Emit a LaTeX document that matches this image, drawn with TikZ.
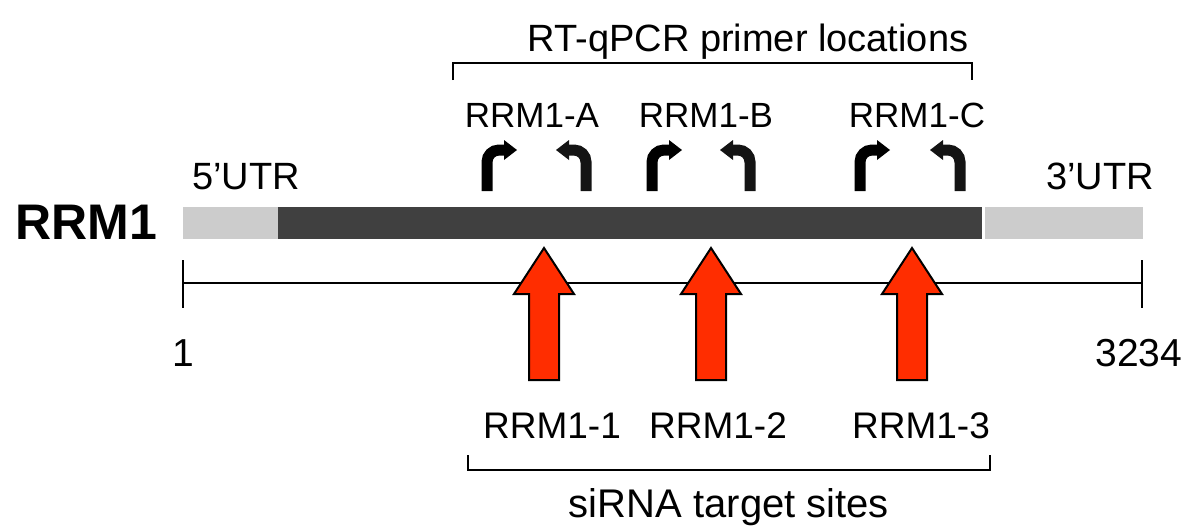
\documentclass[tikz,border=0pt]{standalone}
\usepackage{fontspec}
\setmainfont{Liberation Sans}
\definecolor{utr}{HTML}{CCCCCC}
\definecolor{cds}{HTML}{404040}
\definecolor{sired}{HTML}{FF2D00}
\begin{document}
\begin{tikzpicture}[x=1pt,y=-1pt,
  lbl/.style={inner sep=0pt,anchor=base,font=\fontsize{#1}{#1}\selectfont},
  lbl/.default=34,
  brk/.style={line width=1.6pt},
  fwdp/.pic={\draw[line width=11pt,rounded corners=12pt] (0,41) -- (0,0) -- (20,0);
             \fill (17,-10) -- (30,0) -- (17,10) -- cycle;},
  revp/.pic={\draw[line width=11pt,rounded corners=12pt,black!92] (0,41) -- (0,0) -- (-20,0);
             \fill[black!92] (-17,-10) -- (-30,0) -- (-17,10) -- cycle;},
  redarr/.pic={\filldraw[fill=sired,draw=black,line width=2pt,line join=miter]
     (0,0) -- (30,46) -- (15,46) -- (15,132) -- (-15,132) -- (-15,46) -- (-30,46) -- cycle;}
]
\useasboundingbox (0,0) rectangle (1200,531);
% title and top bracket
\node[lbl=38] (title) at (748,51) {RT-qPCR primer locations};
\draw[brk] (453,80) -- (453,63) -- (972,63) -- (972,80);
% primer labels
\node[lbl=35] (pA) at (532,127) {RRM1-A};
\node[lbl=35] (pB) at (706,127) {RRM1-B};
\node[lbl=35] (pC) at (917,127) {RRM1-C};
% primer arrows
\pic at (487,150) {fwdp};
\pic at (586,150) {revp};
\pic at (652,150) {fwdp};
\pic at (750,150) {revp};
\pic at (860,150) {fwdp};
\pic at (960,150) {revp};
% UTR labels
\node[lbl=38] (u5) at (246,189) {5’UTR};
\node[lbl=38] (u3) at (1100,189) {3’UTR};
% gene label
\node[inner sep=0pt,anchor=base,font=\fontsize{50}{50}\selectfont\bfseries] (gene) at (86,239) {RRM1};
% gene bar
\fill[utr] (183,207) rectangle (278,239);
\fill[cds] (278,207) rectangle (982,239);
\fill[utr] (985,207) rectangle (1143,239);
% scale
\draw[line width=2pt] (183,283) -- (1142,283);
\draw[line width=2.5pt] (183,260) -- (183,308);
\draw[line width=2.5pt] (1142,260) -- (1142,308);
\node[lbl=39] (n1) at (183,366) {1};
\node[lbl=39] (n2) at (1139,366) {3234};
% siRNA arrows
\pic at (544,248) {redarr};
\pic at (711,248) {redarr};
\pic at (912,248) {redarr};
% siRNA labels
\node[lbl=37] (s1) at (552,438) {RRM1-1};
\node[lbl=37] (s2) at (718,438) {RRM1-2};
\node[lbl=37] (s3) at (921,438) {RRM1-3};
\draw[brk] (468,455) -- (468,470) -- (990,470) -- (990,455);
\node[lbl=40] (sit) at (729,517) {siRNA target sites};
\end{tikzpicture}
\end{document}
